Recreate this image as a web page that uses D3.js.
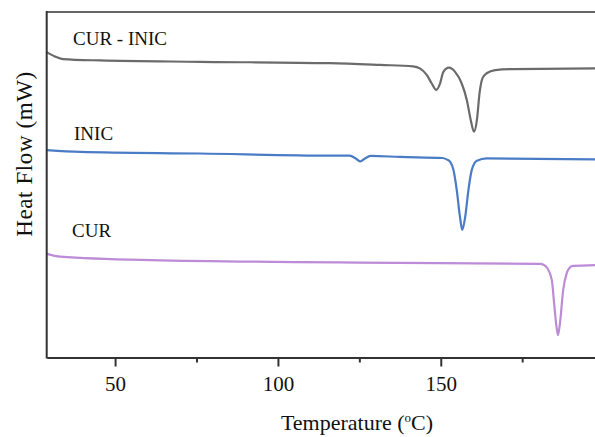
<!DOCTYPE html>
<html>
<head>
<meta charset="utf-8">
<script src="https://cdn.jsdelivr.net/npm/d3@7"></script>
<style>
  html, body { margin: 0; padding: 0; background: #fff; }
  svg { display: block; }
  text { font-family: "Liberation Serif", "Times New Roman", serif; fill: #111; }
</style>
</head>
<body>
<div id="chart"></div>
<script>
// DSC curves (heat flow in arbitrary offset units)
const tempCurInic = [29.0, 31.6, 34.0, 45.4, 76.1, 116.0, 131.4, 141.5, 143.6, 145.7, 147.2, 148.6, 149.8, 150.8, 152.5, 154.4, 156.4, 158.0, 159.2, 160.2, 161.1, 161.9, 162.6, 163.3, 164.1, 166.7, 172.2, 200.0];
const flowCurInic = [88.4, 87.1, 86.4, 86.0, 85.6, 85.2, 84.7, 84.3, 83.7, 81.8, 79.4, 77.5, 79.4, 82.7, 83.9, 82.7, 79.4, 74.6, 68.8, 65.4, 68.8, 76.5, 80.3, 81.6, 82.3, 83.2, 83.5, 83.7];

const tempInic = [29.0, 39.3, 76.1, 116.0, 122.0, 124.0, 125.3, 126.6, 128.5, 137.5, 150.5, 151.8, 152.9, 153.9, 154.9, 155.9, 156.6, 157.5, 158.5, 159.5, 160.3, 161.1, 164.1, 200.0];
const flowInic = [60.1, 59.6, 59.1, 58.5, 58.5, 57.6, 56.8, 57.6, 58.4, 58.1, 57.8, 57.4, 56.7, 54.3, 48.6, 40.8, 37.0, 40.8, 48.6, 54.3, 56.2, 57.0, 57.7, 57.4];

const tempCur = [29.0, 33.1, 60.7, 137.5, 180.5, 181.7, 182.7, 184.1, 184.8, 185.4, 186.0, 186.6, 187.6, 188.7, 189.5, 190.5, 200.0];
const flowCur = [30.1, 29.3, 28.3, 27.5, 27.2, 26.9, 26.0, 22.5, 15.9, 10.1, 6.6, 10.1, 19.7, 24.6, 26.0, 26.6, 26.9];

const seriesNames = ["CUR - INIC", "INIC", "CUR"];
const seriesColors = ["#6b6b6b", "#4a7cc6", "#bd8bd8"];
const majorTicks = [50, 100, 150];
const minorTicks = [75, 125, 175];

const W = 595, H = 437;
const plotLeft = 46.7, plotTop = 12, plotBottom = 357.5;

const svg = d3.select("#chart").append("svg")
  .attr("width", W).attr("height", H);

const x = d3.scaleLinear().domain([29, 200]).range([plotLeft, 603.6]);
const y = d3.scaleLinear().domain([0, 100]).range([358, 12]);

const series = [
  { name: seriesNames[0], t: tempCurInic, v: flowCurInic, color: seriesColors[0], lx: 73, ly: 45 },
  { name: seriesNames[1], t: tempInic, v: flowInic, color: seriesColors[1], lx: 74, ly: 140 },
  { name: seriesNames[2], t: tempCur, v: flowCur, color: seriesColors[2], lx: 72, ly: 237 }
];

const line = d3.line()
  .x(d => x(d[0]))
  .y(d => y(d[1]))
  .curve(d3.curveMonotoneX);

series.forEach(s => {
  const pts = s.t.map((t, i) => [t, s.v[i]]);
  svg.append("path")
    .datum(pts)
    .attr("fill", "none")
    .attr("stroke", s.color)
    .attr("stroke-width", 2.2)
    .attr("stroke-linejoin", "round")
    .attr("d", line);
  svg.append("text")
    .attr("x", s.lx).attr("y", s.ly)
    .attr("font-size", 19)
    .text(s.name);
});

// frame: top line + left axis
svg.append("line")
  .attr("x1", plotLeft).attr("x2", W).attr("y1", plotTop).attr("y2", plotTop)
  .attr("stroke", "#666").attr("stroke-width", 2);
svg.append("line")
  .attr("x1", plotLeft).attr("x2", plotLeft).attr("y1", plotTop - 1).attr("y2", plotBottom + 1)
  .attr("stroke", "#333").attr("stroke-width", 2);

// bottom axis
const xAxis = svg.append("g")
  .attr("transform", `translate(0,${plotBottom})`)
  .call(d3.axisBottom(x).tickValues(majorTicks).tickSize(9).tickSizeOuter(0).tickPadding(10));
xAxis.select(".domain").attr("stroke", "#333").attr("stroke-width", 2);
xAxis.selectAll(".tick line").attr("stroke", "#333").attr("stroke-width", 2);
xAxis.selectAll(".tick text")
  .attr("font-size", 21)
  .attr("font-family", "Liberation Serif, Times New Roman, serif")
  .attr("fill", "#111");

svg.append("g")
  .attr("transform", `translate(0,${plotBottom})`)
  .call(d3.axisBottom(x).tickValues(minorTicks).tickSize(5).tickFormat(""))
  .call(g => g.select(".domain").remove())
  .selectAll(".tick line").attr("stroke", "#333").attr("stroke-width", 2);

// axis titles
const xt = svg.append("text")
  .attr("x", 357).attr("y", 430)
  .attr("text-anchor", "middle")
  .attr("font-size", 22);
xt.append("tspan").text("Temperature (");
xt.append("tspan").attr("font-size", 13).attr("dy", -8).text("o");
xt.append("tspan").attr("dy", 8).text("C)");

svg.append("text")
  .attr("transform", "translate(32,154) rotate(-90)")
  .attr("text-anchor", "middle")
  .attr("font-size", 23)
  .attr("letter-spacing", 0.6)
  .text("Heat Flow (mW)");
</script>
</body>
</html>
